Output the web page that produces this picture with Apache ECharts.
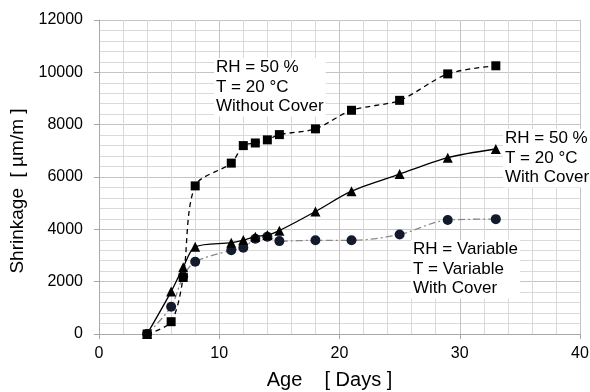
<!DOCTYPE html>
<html>
<head>
<meta charset="utf-8">
<script src="https://cdn.jsdelivr.net/npm/echarts@6/dist/echarts.min.js"></script>
<style>
  html, body { margin: 0; padding: 0; background: #fff; }
  #chart { width: 590px; height: 392px; }
</style>
</head>
<body>
<div id="chart"></div>
<script>
  // ages in days and shrinkage in µm/m
  const ages = [4, 6, 7, 8, 11, 12, 13, 14, 15, 18, 21, 25, 29, 33]
  const withoutCover = [0, 470, 2160, 5660, 6530, 7200, 7300, 7420, 7620, 7840, 8550, 8930, 9940, 10250]
  const withCover = [0, 1620, 2550, 3330, 3490, 3590, 3720, 3780, 3950, 4680, 5460, 6110, 6740, 7070]
  const variable = [0, 1040, 2200, 2760, 3200, 3300, 3640, 3720, 3550, 3580, 3580, 3800, 4360, 4390]
  const xTicks = [0, 10, 20, 30, 40]
  const yTicks = [0, 2000, 4000, 6000, 8000, 10000, 12000]

  const pairs = (vals) => ages.map((a, i) => [a, vals[i]])
  const font = 'Liberation Sans, Arial, sans-serif'

  let myChart = echarts.init(document.getElementById('chart'))

  let note = (text, left, top) => ({
    type: 'text',
    left: left,
    top: top,
    z: 10,
    style: {
      text: text,
      fill: '#000',
      font: '17px ' + font,
      lineHeight: 19.5,
      backgroundColor: '#fff',
      padding: [0, 2, 0, 2]
    }
  })

  let option = {
    animation: false,
    grid: { left: 99, top: 20, width: 481, height: 314, outerBoundsMode: 'none', containLabel: false },
    xAxis: {
      type: 'value',
      min: xTicks[0],
      max: xTicks[xTicks.length - 1],
      interval: 10,
      name: 'Age    [ Days ]',
      nameLocation: 'middle',
      nameGap: 36,
      nameTextStyle: { fontFamily: font, fontSize: 20, color: '#000', padding: [0, 20, 0, 0] },
      axisLine: { lineStyle: { color: '#a8a8a8', width: 1 } },
      axisTick: { show: true, length: 5, lineStyle: { color: '#a8a8a8' } },
      axisLabel: { fontFamily: font, fontSize: 16, color: '#000', margin: 12 },
      splitLine: { show: true, lineStyle: { color: '#c4c4c4', width: 1 } },
      minorTick: { show: false, splitNumber: 5 },
      minorSplitLine: { show: true, lineStyle: { color: '#dadada', width: 1 } }
    },
    yAxis: {
      type: 'value',
      min: yTicks[0],
      max: yTicks[yTicks.length - 1],
      interval: 2000,
      name: 'Shrinkage  [ µm/m ]',
      nameLocation: 'middle',
      nameGap: 69,
      nameTextStyle: { fontFamily: font, fontSize: 19, color: '#000', padding: [0, 28, 0, 0] },
      axisLine: { show: true, lineStyle: { color: '#a8a8a8', width: 1 } },
      axisTick: { show: true, length: 5, lineStyle: { color: '#a8a8a8' } },
      axisLabel: { fontFamily: font, fontSize: 16, color: '#000', margin: 16, formatter: (v) => String(v) },
      splitLine: { show: true, lineStyle: { color: '#c4c4c4', width: 1 } },
      minorTick: { show: false, splitNumber: 5 },
      minorSplitLine: { show: true, lineStyle: { color: '#dadada', width: 1 } }
    },
    series: [
      {
        name: 'RH = Variable',
        type: 'line',
        data: pairs(variable),
        smooth: 0.3,
        symbol: 'circle',
        symbolSize: 10,
        itemStyle: { color: '#131a2b' },
        lineStyle: { color: '#8a8a8a', width: 1.3, type: [7, 3, 2, 3] },
        z: 2
      },
      {
        name: 'With Cover',
        type: 'line',
        data: pairs(withCover),
        smooth: 0.3,
        symbol: 'triangle',
        symbolSize: 10,
        itemStyle: { color: '#000' },
        lineStyle: { color: '#000', width: 1.3, type: 'solid' },
        z: 3
      },
      {
        name: 'Without Cover',
        type: 'line',
        data: pairs(withoutCover),
        smooth: 0.3,
        symbol: 'rect',
        symbolSize: 9,
        itemStyle: { color: '#000' },
        lineStyle: { color: '#000', width: 1.3, type: [5, 4] },
        z: 4
      }
    ],
    graphic: [
      note('RH = 50 %\nT = 20 °C\nWithout Cover', 214, 58),
      note('RH = 50 %\nT = 20 °C\nWith Cover', 503, 129),
      note('RH = Variable\nT = Variable\nWith Cover', 411, 240)
    ]
  }

  myChart.setOption(option)
</script>
</body>
</html>
